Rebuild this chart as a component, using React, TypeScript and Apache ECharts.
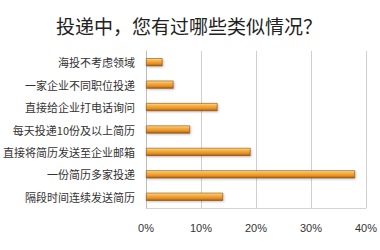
import React, { useEffect, useRef } from "react";
import * as echarts from "echarts";

const title = "投递中，您有过哪些类似情况？";
const categories = [
  "海投不考虑领域",
  "一家企业不同职位投递",
  "直接给企业打电话询问",
  "每天投递10份及以上简历",
  "直接将简历发送至企业邮箱",
  "一份简历多家投递",
  "隔段时间连续发送简历",
];
const values = [3, 5, 13, 8, 19, 38, 14];
const xTicks = [0, 10, 20, 30, 40];

export default function App() {
  const ref = useRef<HTMLDivElement>(null);
  useEffect(() => {
    if (!ref.current) return;
    const chart = echarts.init(ref.current, null, { renderer: "svg" });
    chart.setOption({
      animation: false,
      backgroundColor: "#ffffff",
      title: {
        text: title,
        left: 184,
        top: 11,
        textAlign: "center",
        textStyle: {
          fontFamily: "Noto Sans CJK SC",
          fontSize: 19,
          fontWeight: "normal",
          color: "#222",
        },
      },
      grid: { left: 145, right: 12, top: 51, bottom: 42, containLabel: false },
      xAxis: {
        type: "value",
        min: xTicks[0],
        max: xTicks[xTicks.length - 1],
        interval: 10,
        axisLine: { show: true, lineStyle: { color: "#d4d4d4", width: 1 } },
        axisTick: { show: false },
        splitLine: { show: true, lineStyle: { color: "#cfcfcf", width: 1 } },
        axisLabel: {
          formatter: "{value}%",
          margin: 14,
          fontSize: 11,
          color: "#333",
          fontFamily: "Liberation Sans",
        },
      },
      yAxis: {
        type: "category",
        data: categories,
        inverse: true,
        axisLine: { show: true, lineStyle: { color: "#bdbdbd", width: 1 } },
        axisTick: { show: false },
        axisLabel: {
          fontSize: 11,
          color: "#333",
          margin: 11,
          fontFamily: "Noto Sans CJK SC",
        },
      },
      series: [
        {
          type: "bar",
          data: values,
          barWidth: 8,
          itemStyle: {
            color: new echarts.graphic.LinearGradient(0, 0, 0, 1, [
              { offset: 0, color: "#fbe08a" },
              { offset: 0.3, color: "#f5b24a" },
              { offset: 0.7, color: "#e8901f" },
              { offset: 1, color: "#a8580e" },
            ]),
            borderColor: "#8a4a12",
            borderWidth: 0.6,
            shadowColor: "rgba(0,0,0,0.25)",
            shadowBlur: 2,
            shadowOffsetX: 1,
            shadowOffsetY: 1,
          },
        },
      ],
    });
    return () => chart.dispose();
  }, []);
  return (
    <div
      ref={ref}
      style={{ position: "fixed", left: 0, top: 0, width: 380, height: 250 }}
    />
  );
}
